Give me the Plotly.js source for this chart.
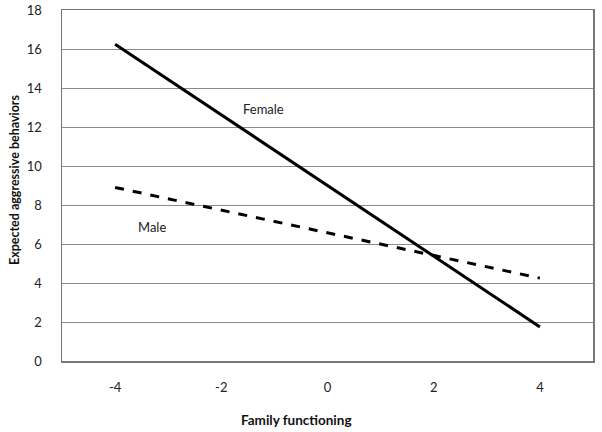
<!DOCTYPE html>
<html><head><meta charset="utf-8">
<script src="https://cdn.plot.ly/plotly-3.0.1.min.js"></script>
<style>html,body{margin:0;padding:0;background:#fff}</style>
</head><body>
<div id="chart" style="width:602px;height:432px"></div>
<script>
const familyFunctioning = [-4, 4];
const femaleValues = [16.25, 1.75];
const maleValues = [8.9, 4.25];
const xTicks = [-4, -2, 0, 2, 4];
const yTicks = [0, 2, 4, 6, 8, 10, 12, 14, 16, 18];
const labelText = ["Female", "Male"];
const labelX = [-1.2, -3.3];
const labelY = [12.9, 6.85];

const font = "Lato, 'Open Sans', sans-serif";
const traces = [
  {x: familyFunctioning, y: femaleValues, mode: "lines", name: "Female",
   line: {color: "#000", width: 3}},
  {x: familyFunctioning, y: maleValues, mode: "lines", name: "Male",
   line: {color: "#000", width: 3, dash: "dash"}}
];
const annots = labelText.map((t, i) => ({
  x: labelX[i], y: labelY[i], xref: "x", yref: "y", text: t, showarrow: false,
  font: {family: font, size: 13, color: "#222"}
}));
annots.push({
  x: 0.4416, y: -0.168, xref: "paper", yref: "paper", text: "<b>Family functioning</b>",
  showarrow: false, xanchor: "center", yanchor: "middle",
  font: {family: font, size: 13.5, color: "#111"}
});
annots.push({
  x: -0.0885, y: 0.5157, xref: "paper", yref: "paper", text: "<b>Expected aggressive behaviors</b>",
  showarrow: false, xanchor: "center", yanchor: "middle", textangle: -90,
  font: {family: font, size: 12.5, color: "#111"}
});
const layout = {
  width: 602, height: 432,
  margin: {l: 62, r: 9, t: 10, b: 71},
  paper_bgcolor: "#fff", plot_bgcolor: "#fff",
  showlegend: false,
  font: {family: font, size: 13, color: "#222"},
  xaxis: {
    range: [-5, 5], tickvals: xTicks, ticktext: xTicks.map(String),
    showgrid: false, zeroline: false, ticks: "", ticklabelstandoff: 14,
    showline: true, mirror: true, linecolor: "#777", linewidth: 1.5
  },
  yaxis: {
    range: [0, 18], tickvals: yTicks, showgrid: true, gridcolor: "#8a8a8a", gridwidth: 1,
    zeroline: false, ticks: "", ticklabelstandoff: 16,
    showline: true, mirror: true, linecolor: "#777", linewidth: 1.5
  },
  annotations: annots
};
Plotly.newPlot("chart", traces, layout, {displayModeBar: false, staticPlot: true});
</script>
</body></html>
